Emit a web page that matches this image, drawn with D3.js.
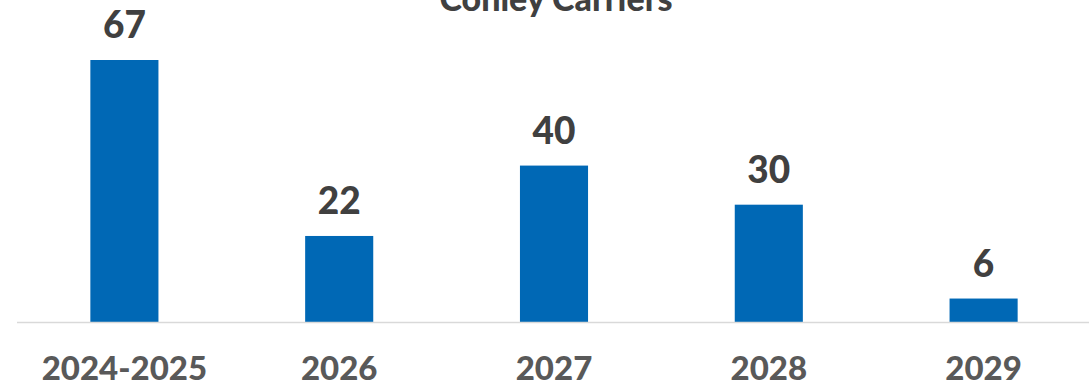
<!DOCTYPE html>
<html>
<head>
<meta charset="utf-8">
<script src="https://cdn.jsdelivr.net/npm/d3@7"></script>
<style>
  body { margin: 0; background: #fff; }
  svg { display: block; font-family: Lato, 'Liberation Sans', sans-serif; font-weight: 900; }
</style>
</head>
<body>
<div id="chart"></div>
<script>
const width = 1089;
const height = 385;

// datos
const categories = ['2024-2025', '2026', '2027', '2028', '2029'];
const values = [67, 22, 40, 30, 6];
const title = 'Conley Carriers';

const baseY = 322;
const topY = 60;

const svg = d3.select('#chart')
  .append('svg')
  .attr('width', width)
  .attr('height', height);

const xScale = d3.scaleBand()
  .domain(categories)
  .range([17, 1091])
  .paddingInner(0.683)
  .paddingOuter(0.683 / 2);

const yScale = d3.scaleLinear()
  .domain([0, 67])
  .range([baseY, topY]);

// titulo
svg.append('text')
  .attr('x', 556)
  .attr('y', 11)
  .attr('text-anchor', 'middle')
  .attr('font-size', 34)
  .attr('fill', '#404040')
  .text(title);

// barras
svg.selectAll('.bar')
  .data(values)
  .enter()
  .append('rect')
  .attr('class', 'bar')
  .attr('x', (d, i) => xScale(categories[i]))
  .attr('y', d => yScale(d))
  .attr('width', xScale.bandwidth())
  .attr('height', d => baseY - yScale(d))
  .attr('fill', '#0068b5');

// eje
svg.append('line')
  .attr('x1', 17)
  .attr('x2', width)
  .attr('y1', baseY + 0.5)
  .attr('y2', baseY + 0.5)
  .attr('stroke', '#d9d9d9')
  .attr('stroke-width', 1.5);

// etiquetas de valor
svg.selectAll('.labelbar')
  .data(values)
  .enter()
  .append('text')
  .attr('class', 'labelbar')
  .attr('x', (d, i) => xScale(categories[i]) + xScale.bandwidth() / 2)
  .attr('y', d => yScale(d) - 22)
  .attr('text-anchor', 'middle')
  .attr('font-size', 37)
  .attr('fill', '#404040')
  .text(d => d);

// etiquetas de categoria
svg.selectAll('.labelcat')
  .data(categories)
  .enter()
  .append('text')
  .attr('class', 'labelcat')
  .attr('x', d => xScale(d) + xScale.bandwidth() / 2)
  .attr('y', 380)
  .attr('text-anchor', 'middle')
  .attr('font-size', 33)
  .attr('fill', '#595959')
  .text(d => d);
</script>
</body>
</html>
